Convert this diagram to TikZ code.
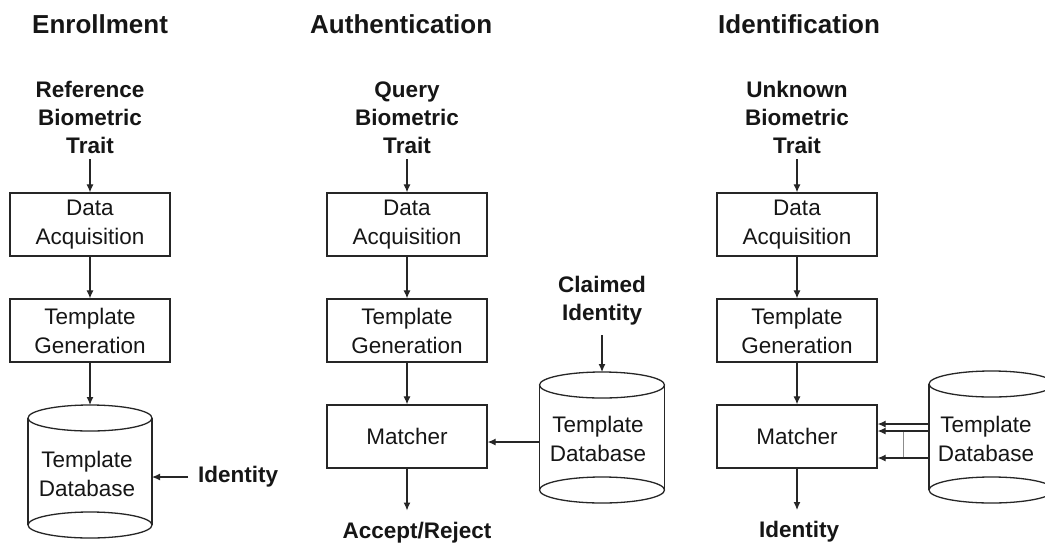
\documentclass[tikz,border=0pt]{standalone}
\usepackage{fontspec}
\usetikzlibrary{arrows.meta,calc}
\newfontfamily\arialf{Liberation Sans}
\newcommand\boxfont{\arialf\fontsize{22.5}{29}\selectfont}
\newcommand\lblfont{\arialf\bfseries\fontsize{22.5}{28}\selectfont}
\newcommand\ttlfont{\arialf\bfseries\fontsize{26}{30}\selectfont}
\definecolor{linec}{HTML}{262626}
\definecolor{textc}{HTML}{161616}
\tikzset{
  stage/.style={draw=linec, line width=1.3pt, minimum width=160pt, minimum height=63pt,
    inner sep=0pt, align=center, font=\boxfont, text=textc},
  lbl/.style={align=center, inner sep=0pt, font=\lblfont, text=textc},
  ttl/.style={anchor=base west, inner sep=0pt, font=\ttlfont, text=textc},
  dbtext/.style={align=center, inner sep=0pt, font=\boxfont, text=textc},
  dbbody/.style={inner sep=0pt, outer sep=0pt, minimum width=125pt},
  cylline/.style={draw=linec, line width=1.3pt},
  arr/.style={draw=linec, line width=1.2pt, -{Latex[length=8pt,width=7pt]}},
  link/.style={draw=black!45, line width=1pt},
}
\begin{document}
\begin{tikzpicture}[x=1pt, y=-1pt]
\clip (0,0) rectangle (1045,542);
\fill[white] (0,0) rectangle (1045,542);

% ---------- column titles ----------
\node[ttl] (tE) at (32,33)  {Enrollment};
\node[ttl] (tA) at (310,33) {Authentication};
\node[ttl] (tI) at (718,33) {Identification};

% ---------- Enrollment ----------
\node[lbl, anchor=south] (inE) at (90,154) {Reference\\Biometric\\Trait};
\node[stage] (daE) at (90,224.5) {Data\\Acquisition};
\node[stage] (tgE) at (90,330.5) {Template\\Generation};
\node[dbbody, minimum width=124pt, minimum height=107pt] (dbE) at (90,471.5) {};
\draw[cylline] (dbE.north west) -- (dbE.south west) (dbE.north east) -- (dbE.south east);
\draw[cylline] (dbE.north) ellipse [x radius=62pt, y radius=13pt];
\draw[cylline] (dbE.south) ellipse [x radius=62pt, y radius=13pt];
\node[dbtext] (dbEt) at (87,474) {Template\\Database};
\node[lbl, anchor=west] (idE) at (198,477) {Identity};

\draw[arr, shorten <=5pt] (inE) -- (daE);
\draw[arr] (daE) -- (tgE);
\draw[arr] (tgE) -- ([yshift=13pt]dbE.north);
\draw[arr, shorten <=10pt] (idE.west) -- (idE.west -| dbE.east);

% ---------- Authentication ----------
\node[lbl, anchor=south] (inA) at (407,154) {Query\\Biometric\\Trait};
\node[stage] (daA) at (407,224.5) {Data\\Acquisition};
\node[stage] (tgA) at (407,330.5) {Template\\Generation};
\node[stage] (mA)  at (407,436.5) {Matcher};
\node[lbl, anchor=north] (outA) at (417,521.5) {Accept/Reject};
\node[lbl, anchor=south] (ciA) at (602,325) {Claimed\\Identity};
\node[dbbody, minimum height=105pt] (dbA) at (602,437.5) {};
\draw[cylline] (dbA.north west) -- (dbA.south west) (dbA.north east) -- (dbA.south east);
\draw[cylline] (dbA.north) ellipse [x radius=62.5pt, y radius=13pt];
\draw[cylline] (dbA.south) ellipse [x radius=62.5pt, y radius=13pt];
\node[dbtext] (dbAt) at (598,439) {Template\\Database};

\draw[arr, shorten <=5pt] (inA) -- (daA);
\draw[arr] (daA) -- (tgA);
\draw[arr] (tgA) -- (mA);
\draw[arr, shorten >=11pt] (mA.south) -- (mA.south |- outA.north);
\draw[arr, shorten <=10pt] (ciA) -- ([yshift=13pt]dbA.north);
\coordinate (qA) at ([yshift=-4.5pt]dbA.west);
\draw[arr] (qA) -- (qA -| mA.east);

% ---------- Identification ----------
\node[lbl, anchor=south] (inI) at (797,154) {Unknown\\Biometric\\Trait};
\node[stage] (daI) at (797,224.5) {Data\\Acquisition};
\node[stage] (tgI) at (797,330.5) {Template\\Generation};
\node[stage] (mI)  at (797,436.5) {Matcher};
\node[lbl, anchor=north] (outI) at (799,521) {Identity};
\node[dbbody, minimum height=106pt] (dbI) at (991.5,437) {};
\draw[cylline] (dbI.north west) -- (dbI.south west) (dbI.north east) -- (dbI.south east);
\draw[cylline] (dbI.north) ellipse [x radius=62.5pt, y radius=13pt];
\draw[cylline] (dbI.south) ellipse [x radius=62.5pt, y radius=13pt];
\node[dbtext] (dbIt) at (986,439) {Template\\Database};

\draw[arr, shorten <=5pt] (inI) -- (daI);
\draw[arr] (daI) -- (tgI);
\draw[arr] (tgI) -- (mI);
\draw[arr, shorten >=11pt] (mI.south) -- (mI.south |- outI.north);
\coordinate (q1) at ([yshift=13pt]dbI.west);
\coordinate (q2) at ([yshift=6pt]dbI.west);
\coordinate (q3) at ([yshift=-21pt]dbI.west);
\draw[link] ($(q2)!0.5!(q2 -| mI.east)$) -- ($(q3)!0.5!(q3 -| mI.east)$);
\draw[arr] (q1) -- (q1 -| mI.east);
\draw[arr] (q2) -- (q2 -| mI.east);
\draw[arr] (q3) -- (q3 -| mI.east);
\end{tikzpicture}
\end{document}
